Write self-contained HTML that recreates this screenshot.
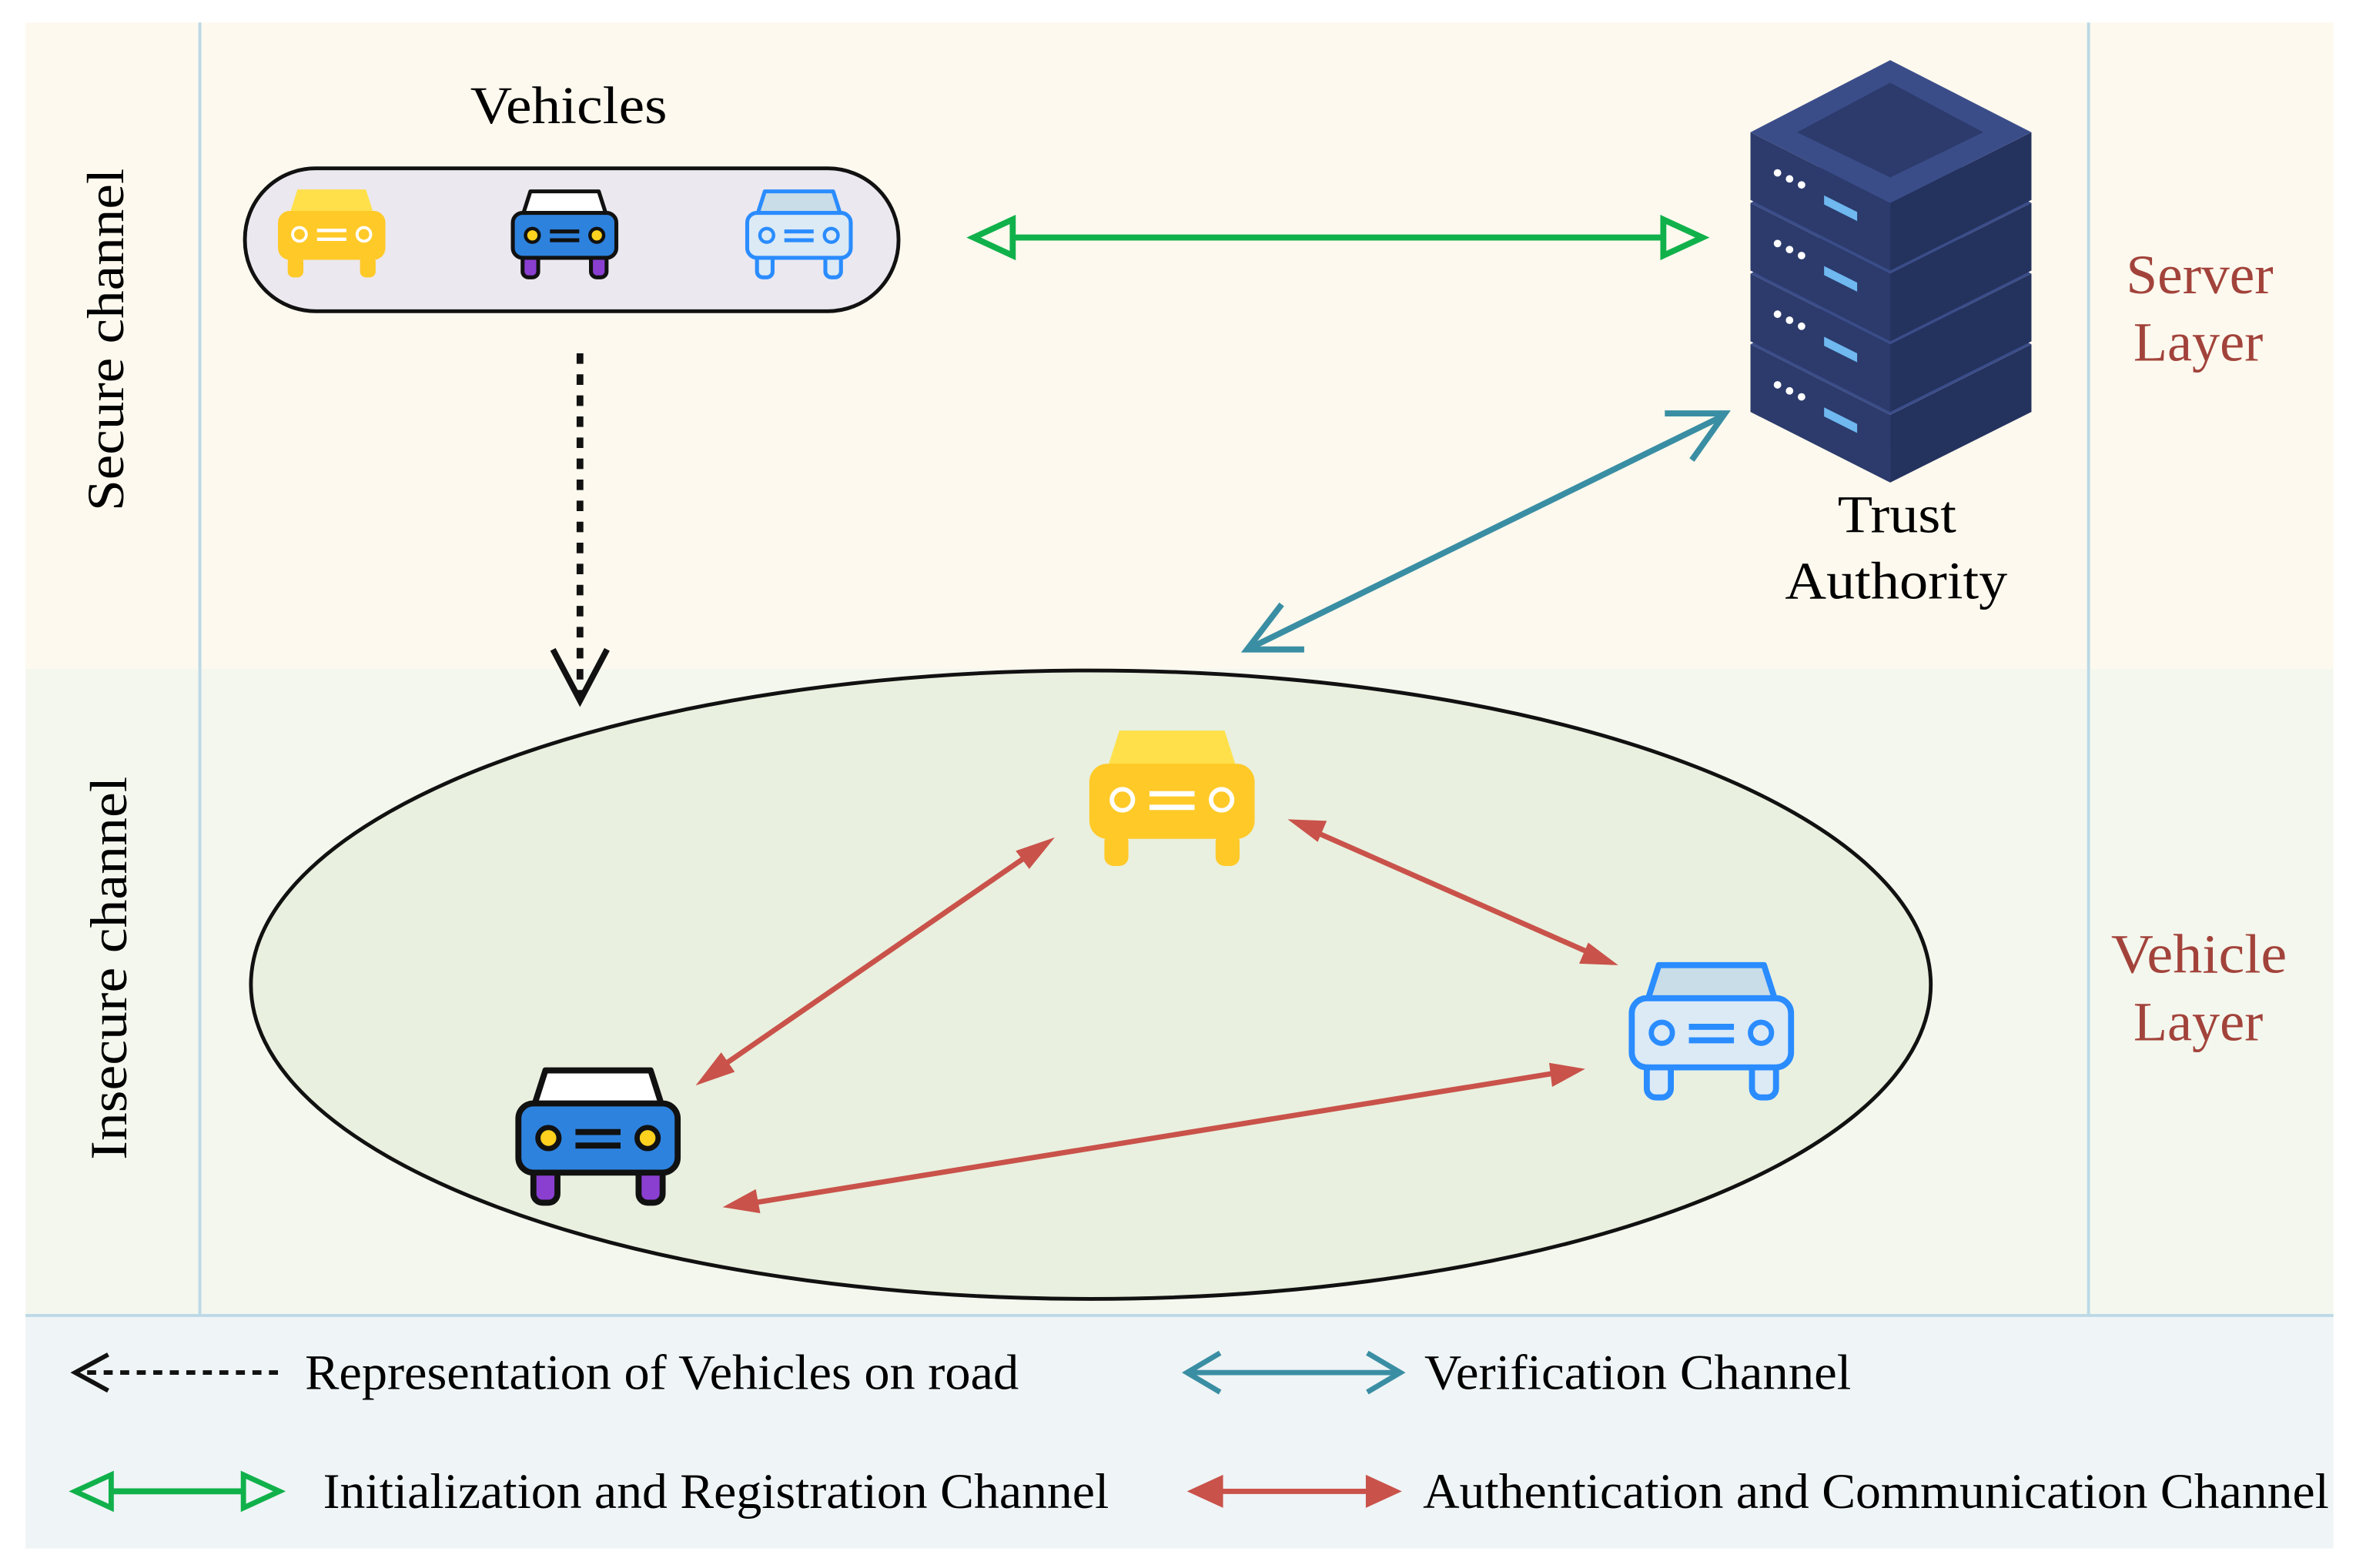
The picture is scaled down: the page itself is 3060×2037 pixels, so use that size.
<!DOCTYPE html>
<html><head><meta charset="utf-8"><style>
html,body{margin:0;padding:0;background:#fff;}
svg{display:block;}
text{font-family:"Liberation Serif",serif;}
</style></head><body>
<svg width="3060" height="2037" viewBox="0 0 1568 1043" preserveAspectRatio="none" xmlns="http://www.w3.org/2000/svg">
<defs>
<g id="carY">
 <path d="M20,0 H90 L98,25 H12 Z" fill="#ffe04a"/>
 <rect x="0" y="22" width="110" height="50" rx="12" fill="#ffc928"/>
 <rect x="10" y="68" width="16" height="22" rx="6" fill="#ffc928"/>
 <rect x="84" y="68" width="16" height="22" rx="6" fill="#ffc928"/>
 <circle cx="22" cy="46" r="7" fill="none" stroke="#fff" stroke-width="3"/>
 <circle cx="88" cy="46" r="7" fill="none" stroke="#fff" stroke-width="3"/>
 <line x1="40" y1="42" x2="70" y2="42" stroke="#fff" stroke-width="3.5"/>
 <line x1="40" y1="51" x2="70" y2="51" stroke="#fff" stroke-width="3.5"/>
</g>
<g id="carB">
 <rect x="12" y="66" width="16" height="24" rx="6" fill="#8a3fd1" stroke="#111" stroke-width="4"/>
 <rect x="82" y="66" width="16" height="24" rx="6" fill="#8a3fd1" stroke="#111" stroke-width="4"/>
 <path d="M20,2 H90 L98,27 H12 Z" fill="#fff" stroke="#111" stroke-width="4" stroke-linejoin="round"/>
 <rect x="2" y="24" width="106" height="46" rx="10" fill="#2d82de" stroke="#111" stroke-width="4"/>
 <circle cx="22" cy="47" r="7" fill="#ffd21f" stroke="#111" stroke-width="3.5"/>
 <circle cx="88" cy="47" r="7" fill="#ffd21f" stroke="#111" stroke-width="3.5"/>
 <line x1="40" y1="43" x2="70" y2="43" stroke="#111" stroke-width="4"/>
 <line x1="40" y1="52" x2="70" y2="52" stroke="#111" stroke-width="4"/>
</g>
<g id="carL">
 <rect x="12" y="66" width="16" height="24" rx="6" fill="#dbeaf5" stroke="#2a8cff" stroke-width="4"/>
 <rect x="82" y="66" width="16" height="24" rx="6" fill="#dbeaf5" stroke="#2a8cff" stroke-width="4"/>
 <path d="M20,2 H90 L98,27 H12 Z" fill="#c9dde8" stroke="#2a8cff" stroke-width="4" stroke-linejoin="round"/>
 <rect x="2" y="24" width="106" height="46" rx="10" fill="#dbeaf5" stroke="#2a8cff" stroke-width="4"/>
 <circle cx="22" cy="47" r="7" fill="none" stroke="#2a8cff" stroke-width="3.5"/>
 <circle cx="88" cy="47" r="7" fill="none" stroke="#2a8cff" stroke-width="3.5"/>
 <line x1="40" y1="43" x2="70" y2="43" stroke="#2a8cff" stroke-width="4"/>
 <line x1="40" y1="52" x2="70" y2="52" stroke="#2a8cff" stroke-width="4"/>
</g>
<g id="slab">
 <polygon points="1165,88 1258,135 1258,180 1165,133" fill="#2c3b6c"/>
 <polygon points="1258,135 1352,88 1352,133 1258,180" fill="#24325e"/>
 <polygon points="1258,40 1352,88 1258,135 1165,88" fill="#3b4d89"/>
 <circle cx="1183" cy="115" r="2.5" fill="#fff"/><circle cx="1191" cy="119" r="2.5" fill="#fff"/><circle cx="1199" cy="123" r="2.5" fill="#fff"/>
 <polygon points="1214,130 1236,141 1236,147 1214,136" fill="#6fb8f0"/>
</g>
</defs>
<rect width="1568" height="1043" fill="#fff"/>
<rect x="17" y="15" width="1536" height="430" fill="#fdf9ee"/>
<rect x="17" y="445" width="1536" height="430" fill="#f4f7ee"/>
<rect x="17" y="875" width="1536" height="155" fill="#eff4f6"/>
<line x1="133" y1="15" x2="133" y2="875" stroke="#bcd9e6" stroke-width="2"/>
<line x1="1390" y1="15" x2="1390" y2="875" stroke="#bcd9e6" stroke-width="2"/>
<line x1="17" y1="875" x2="1553" y2="875" stroke="#bcd9e6" stroke-width="2"/>

<text transform="translate(82,226) rotate(-90)" font-size="35" text-anchor="middle" textLength="228" lengthAdjust="spacingAndGlyphs">Secure channel</text>
<text transform="translate(84,644) rotate(-90)" font-size="35" text-anchor="middle" textLength="255" lengthAdjust="spacingAndGlyphs">Insecure channel</text>

<text x="313" y="82" font-size="35" textLength="131" lengthAdjust="spacingAndGlyphs">Vehicles</text>
<rect x="163" y="112" width="435" height="95" rx="47" fill="#ebe8ef" stroke="#111" stroke-width="2.5"/>
<g transform="translate(185,126) scale(0.65)"><use href="#carY"/></g>
<g transform="translate(340,126) scale(0.65)"><use href="#carB"/></g>
<g transform="translate(496,126) scale(0.65)"><use href="#carL"/></g>

<line x1="660" y1="158" x2="1118" y2="158" stroke="#10b14b" stroke-width="4"/>
<polygon points="648,158 674,146 674,170" fill="#fdf9ee" stroke="#10b14b" stroke-width="4"/>
<polygon points="1133,158 1107,146 1107,170" fill="#fdf9ee" stroke="#10b14b" stroke-width="4"/>

<use href="#slab" transform="translate(0,141)"/>
<use href="#slab" transform="translate(0,94)"/>
<use href="#slab" transform="translate(0,47)"/>
<use href="#slab"/>
<polygon points="1258,55 1320,88 1258,118 1196,88" fill="#2c3b6c"/>
<text x="1223" y="354" font-size="35" textLength="79" lengthAdjust="spacingAndGlyphs">Trust</text>
<text x="1188" y="398" font-size="35" textLength="148" lengthAdjust="spacingAndGlyphs">Authority</text>
<text x="1415" y="195" font-size="37" fill="#a2433b" textLength="98" lengthAdjust="spacingAndGlyphs">Server</text>
<text x="1463" y="240" font-size="37" text-anchor="middle" fill="#a2433b">Layer</text>
<text x="1405" y="647" font-size="37" fill="#a2433b" textLength="117" lengthAdjust="spacingAndGlyphs">Vehicle</text>
<text x="1463" y="692" font-size="37" text-anchor="middle" fill="#a2433b">Layer</text>

<line x1="832" y1="431" x2="1146" y2="277" stroke="#3a8ea3" stroke-width="4"/>
<polyline points="853,402 830,432 868,432" fill="none" stroke="#3a8ea3" stroke-width="4"/>
<polyline points="1108,275 1148,275 1126,306" fill="none" stroke="#3a8ea3" stroke-width="4"/>

<line x1="386" y1="235" x2="386" y2="462" stroke="#111" stroke-width="4.5" stroke-dasharray="7,7"/>
<polyline points="368,432 386,466 404,432" fill="none" stroke="#111" stroke-width="4"/>

<ellipse cx="726" cy="655" rx="559" ry="209" fill="#e9f0df" stroke="#111" stroke-width="2.5"/>

<g stroke="#c9524a" stroke-width="3.5" fill="#c9524a">
<line x1="475" y1="713" x2="690" y2="565"/>
<line x1="870" y1="551" x2="1063" y2="636"/>
<line x1="496" y1="801" x2="1040" y2="713"/>
</g>
<g fill="#c9524a">
<polygon points="463,722 480,700 489,713"/>
<polygon points="702,557 685,578 676,566"/>
<polygon points="857,545 883,546 877,560"/>
<polygon points="1077,642 1051,641 1057,627"/>
<polygon points="481,803 503,791 506,807"/>
<polygon points="1055,711 1033,723 1031,707"/>
</g>

<use href="#carY" transform="translate(725,486)"/>
<use href="#carB" transform="translate(343,710)"/>
<use href="#carL" transform="translate(1084,640)"/>

<line x1="58" y1="913" x2="190" y2="913" stroke="#111" stroke-width="3" stroke-dasharray="6,5"/>
<polyline points="72,901 50,913 72,925" fill="none" stroke="#111" stroke-width="3"/>
<text x="203" y="924" font-size="33" textLength="475" lengthAdjust="spacingAndGlyphs">Representation of Vehicles on road</text>

<line x1="66" y1="992" x2="170" y2="992" stroke="#10b14b" stroke-width="4"/>
<polygon points="50,992 74,981 74,1003" fill="#eff4f6" stroke="#10b14b" stroke-width="3.5"/>
<polygon points="186,992 162,981 162,1003" fill="#eff4f6" stroke="#10b14b" stroke-width="3.5"/>
<text x="215" y="1003" font-size="33" textLength="523" lengthAdjust="spacingAndGlyphs">Initialization and Registration Channel</text>

<line x1="792" y1="913" x2="930" y2="913" stroke="#3a8ea3" stroke-width="3.5"/>
<polyline points="812,900 790,913 812,926" fill="none" stroke="#3a8ea3" stroke-width="3.5"/>
<polyline points="910,900 932,913 910,926" fill="none" stroke="#3a8ea3" stroke-width="3.5"/>
<text x="948" y="924" font-size="33" textLength="284" lengthAdjust="spacingAndGlyphs">Verification Channel</text>

<line x1="805" y1="992" x2="918" y2="992" stroke="#c9524a" stroke-width="3.5"/>
<polygon points="790,992 814,981 814,1003" fill="#c9524a"/>
<polygon points="933,992 909,981 909,1003" fill="#c9524a"/>
<text x="947" y="1003" font-size="33" textLength="603" lengthAdjust="spacingAndGlyphs">Authentication and Communication Channel</text>
</svg>
</body></html>
